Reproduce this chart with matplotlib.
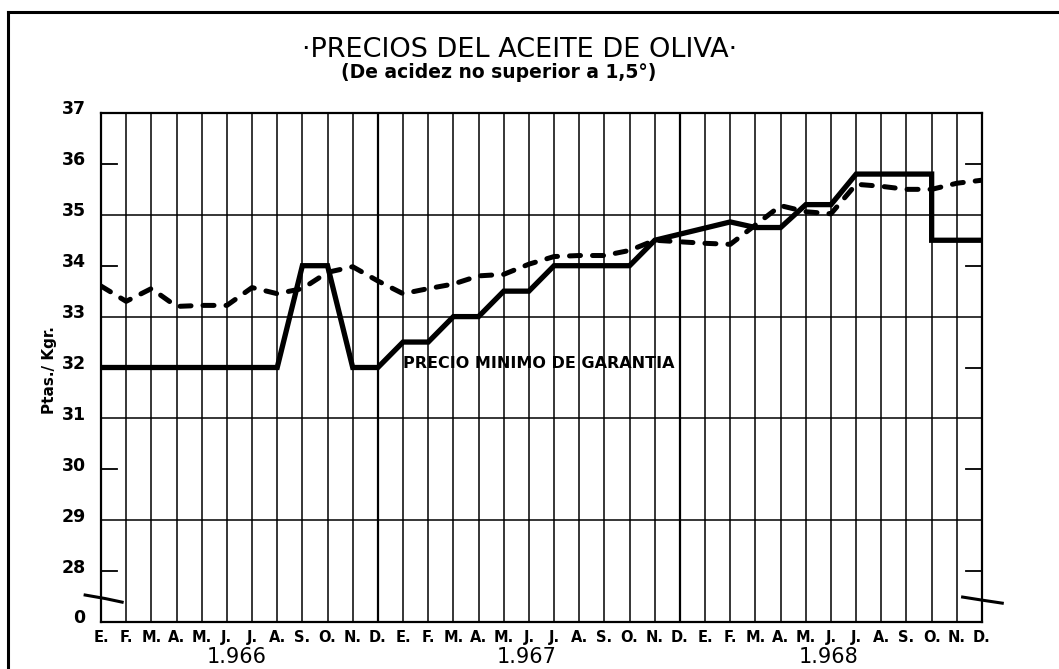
import matplotlib
matplotlib.use("Agg")
import matplotlib.pyplot as plt
import matplotlib.transforms as mtransforms
from matplotlib.lines import Line2D

# Meses 1966-1968 (E. = enero ... D. = diciembre)
meses = ["E.", "F.", "M.", "A.", "M.", "J.", "J.", "A.", "S.", "O.", "N.", "D."] * 3
anios = ["1.966", "1.967", "1.968"]
anio_pos = [5.4, 16.9, 28.9]

# Precio minimo de garantia (linea continua), con la caida en O. 1968
garantia_x = list(range(0, 34)) + [33, 34, 35]
garantia = [32, 32, 32, 32, 32, 32, 32, 32, 34, 34, 32, 32,
            32.5, 32.5, 33, 33, 33.5, 33.5, 34, 34, 34, 34, 34.5, 34.62,
            34.74, 34.86, 34.75, 34.75, 35.2, 35.2, 35.8, 35.8, 35.8, 35.8,
            34.5, 34.5, 34.5]

# Precio del aceite en mercado (linea de trazos)
mercado = [33.6, 33.3, 33.55, 33.2, 33.22, 33.22, 33.57, 33.45, 33.55, 33.87, 33.98, 33.7,
           33.45, 33.55, 33.64, 33.8, 33.83, 34.03, 34.18, 34.2, 34.2, 34.3, 34.5, 34.47,
           34.44, 34.42, 34.8, 35.18, 35.06, 35.02, 35.6, 35.56, 35.5, 35.5, 35.62, 35.68]

yticks = [27, 28, 29, 30, 31, 32, 33, 34, 35, 36, 37]
ylabels = ["0", "28", "29", "30", "31", "32", "33", "34", "35", "36", "37"]
marcas_y = [28, 30, 32, 34, 36]

fig = plt.figure(figsize=(10.59, 6.69), dpi=100)
ax = fig.add_axes([101 / 1059, 47 / 669, 881 / 1059, 509 / 669])

# reticula
for i in range(1, 35):
    ax.axvline(i, color="black", lw=1.6 if i in (11, 23) else 1.1, zorder=1)
for v in [29, 31, 33, 35]:
    ax.axhline(v, color="black", lw=1.1, zorder=1)

# marcas cortas en los valores pares, a ambos lados
ytrans = mtransforms.blended_transform_factory(ax.transAxes, ax.transData)
for v in marcas_y:
    ax.plot([0, 0.018], [v, v], color="black", lw=1.3, transform=ytrans, zorder=2)
    ax.plot([0.982, 1.0], [v, v], color="black", lw=1.3, transform=ytrans, zorder=2)

ax.plot(range(len(mercado)), mercado, color="black", lw=3.6,
        linestyle=(0, (2.2, 2.4)), dash_capstyle="round", zorder=3)
ax.plot(garantia_x, garantia, color="black", lw=3.8, solid_joinstyle="miter", zorder=4)

ax.text(12.0, 32.08, "PRECIO MINIMO DE GARANTIA", fontsize=11.5, fontweight="bold",
        ha="left", va="center", zorder=5)

ax.set_xlim(0, 35)
ax.set_ylim(27, 37)
ax.set_xticks(range(36))
ax.set_xticklabels(meses, fontsize=10.5, fontweight="bold")
ax.set_yticks(yticks)
ax.set_yticklabels(ylabels, fontsize=12.5, fontweight="bold")
ax.tick_params(axis="both", which="major", length=0)
ax.tick_params(axis="x", pad=6)
ax.tick_params(axis="y", pad=11)

up = mtransforms.ScaledTranslation(0, 4 / 72, fig.dpi_scale_trans)
for lab in ax.get_yticklabels():
    lab.set_transform(lab.get_transform() + up)

for sp in ax.spines.values():
    sp.set_linewidth(1.6)

ax.text(-0.058, 0.495, "Ptas./ Kgr.", transform=ax.transAxes, rotation=90,
        fontsize=11, fontweight="bold", ha="center", va="center")

trans = mtransforms.blended_transform_factory(ax.transData, ax.transAxes)
for x, a in zip(anio_pos, anios):
    ax.text(x, -0.069, a, transform=trans, fontsize=15, ha="center", va="center")

# marcas de eje interrumpido
ax.plot([-0.018, 0.005, 0.024], [0.053, 0.046, 0.039], color="black", lw=2.2,
        transform=ax.transAxes, clip_on=False, zorder=6)
ax.plot([0.978, 1.0, 1.023], [0.049, 0.043, 0.037], color="black", lw=2.2,
        transform=ax.transAxes, clip_on=False, zorder=6)

fig.text(0.4906, 0.925, "\u00b7PRECIOS DEL ACEITE DE OLIVA\u00b7", fontsize=19.5,
         ha="center", va="center")
fig.text(0.471, 0.892, "(De acidez no superior a 1,5\u00b0)", fontsize=13.5,
         fontweight="bold", ha="center", va="center")

# marco exterior
fig.add_artist(Line2D([8 / 1059, 1.0], [1 - 12 / 669, 1 - 12 / 669],
                      transform=fig.transFigure, color="black", lw=2.2))
fig.add_artist(Line2D([8 / 1059, 8 / 1059], [0, 1 - 12 / 669],
                      transform=fig.transFigure, color="black", lw=2.2))

fig.savefig("out.png", dpi=100)
